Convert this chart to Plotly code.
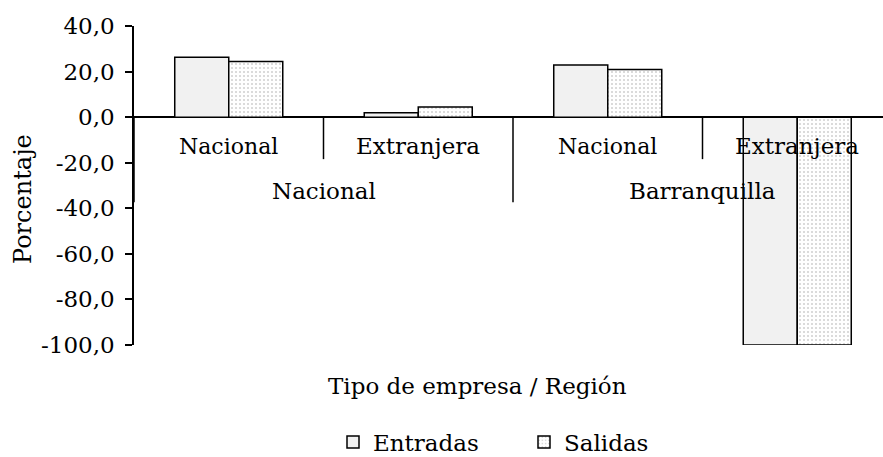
import plotly.graph_objects as go

# ---- data ----
regiones = ["Nacional", "Nacional", "Barranquilla", "Barranquilla"]
tipos = ["Nacional", "Extranjera", "Nacional", "Extranjera"]
entradas = [26.3, 1.9, 22.9, -100.0]
salidas = [24.4, 4.4, 20.9, -100.0]
y_tickvals = [40, 20, 0, -20, -40, -60, -80, -100]
y_ticktext = ["40,0", "20,0", "0,0", "-20,0", "-40,0", "-60,0", "-80,0", "-100,0"]

FONT = "DejaVu Serif"
FS = 23

FIG_W, FIG_H = 883, 457

# plot area in pixels
L, R, T, B = 134, 883, 26, 345
W, H = R - L, B - T


def px_x(x):
    return (x - L) / W


def px_y(y):
    return (B - y) / H


cats = [f"{r} | {t}" for r, t in zip(regiones, tipos)]

fig = go.Figure()
fig.add_trace(go.Bar(
    x=cats, y=entradas, name="Entradas",
    marker=dict(color="#f1f1f1", line=dict(color="black", width=1.5)),
))
fig.add_trace(go.Bar(
    x=cats, y=salidas, name="Salidas",
    marker=dict(color="white", line=dict(color="black", width=1.5),
                pattern=dict(shape=".", fgcolor="#a0a0a0", bgcolor="white",
                             size=4, solidity=0.2)),
))

annotations = []
shapes = []
# inner labels
for i, t in enumerate(tipos):
    annotations.append(dict(x=i, y=0, xref="x", yref="y", yshift=-29,
                            xanchor="center", yanchor="middle",
                            text=t, showarrow=False,
                            font=dict(family=FONT, size=FS - 1 if t == "Nacional" else FS,
                                      color="black")))
# outer group labels
groups = []
for i, r in enumerate(regiones):
    if not groups or groups[-1][0] != r:
        groups.append([r, i, i])
    else:
        groups[-1][2] = i
for r, a, b in groups:
    annotations.append(dict(x=(a + b) / 2, y=0, xref="x", yref="y", yshift=-74,
                            xanchor="center", yanchor="middle",
                            text=r, showarrow=False,
                            font=dict(family=FONT, size=FS, color="black")))
# dividers
for i in range(len(cats)):
    pos = i + 0.5
    long_div = (i + 1 < len(cats) and regiones[i + 1] != regiones[i]) or i + 1 == len(cats)
    shapes.append(dict(type="line", xref="x", yref="y", ysizemode="pixel", yanchor=0,
                       x0=pos, x1=pos, y0=0, y1=-85 if long_div else -42,
                       line=dict(color="black", width=1.5)))
shapes.append(dict(type="line", xref="x", yref="y", ysizemode="pixel", yanchor=0,
                   x0=-0.5, x1=-0.5, y0=0, y1=-85, line=dict(color="black", width=1.5)))

# axis titles
annotations.append(dict(x=px_x(477), y=px_y(386), xref="paper", yref="paper",
                        xanchor="center", yanchor="middle",
                        text="Tipo de empresa / Región", showarrow=False,
                        font=dict(family=FONT, size=FS, color="black")))
annotations.append(dict(x=px_x(23), y=px_y(199), xref="paper", yref="paper",
                        xanchor="center", yanchor="middle",
                        text="Porcentaje", textangle=-90, showarrow=False,
                        font=dict(family=FONT, size=24, color="black")))

fig.update_layout(
    width=FIG_W, height=FIG_H,
    margin=dict(l=L, r=FIG_W - R, t=T, b=FIG_H - B, autoexpand=False),
    paper_bgcolor="white", plot_bgcolor="white",
    font=dict(family=FONT, size=FS, color="black"),
    barmode="group", bargap=0.43, bargroupgap=0,
    showlegend=True,
    legend=dict(orientation="h", x=px_x(333), xanchor="left", y=px_y(442), yanchor="middle",
                entrywidth=146, entrywidthmode="pixels",
                bgcolor="rgba(0,0,0,0)",
                font=dict(family=FONT, size=FS, color="black")),
    annotations=annotations,
    shapes=shapes,
)

fig.update_xaxes(range=[-0.5, -0.5 + (883 - L) / 189.5], showticklabels=False,
                 showline=False, ticks="", showgrid=False, zeroline=False, automargin=False)
fig.update_yaxes(range=[-100, 40], tickvals=y_tickvals, ticktext=y_ticktext,
                 showline=True, linecolor="black", linewidth=1.5,
                 ticks="outside", ticklen=7, tickwidth=1.5, tickcolor="black",
                 showgrid=False, zeroline=True, zerolinecolor="black", zerolinewidth=1.5,
                 layer="above traces", ticklabelstandoff=6, automargin=False)

fig.write_html(
    "out.html",
    config={"displayModeBar": False},
    post_script="document.body.style.margin='0';document.body.style.overflow='hidden';",
)
